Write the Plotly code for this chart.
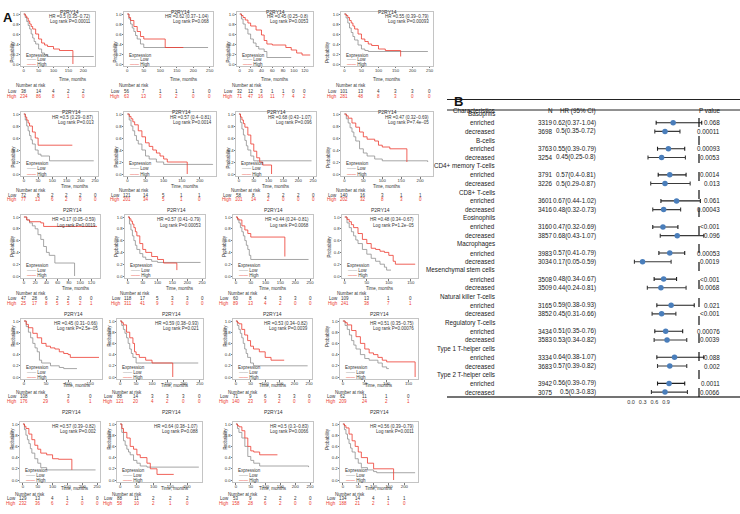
import plotly.graph_objects as go

W, H = 740, 514
FONT = "Arial, 'Liberation Sans', sans-serif"
RED = "#ec3a2e"
GREY = "#8f8f8f"

# ---------------- Panel A : Kaplan-Meier data ----------------
km_title = "P2RY14"
km_hr = ["HR =0.5 (0.35−0.72)", "HR =0.62 (0.37−1.04)", "HR =0.45 (0.25−0.8)", "HR =0.55 (0.39−0.79)",
         "HR =0.5 (0.29−0.87)", "HR =0.57 (0.4−0.81)", "HR =0.68 (0.43−1.07)", "HR =0.47 (0.32−0.69)",
         "HR =0.17 (0.05−0.59)", "HR =0.57 (0.41−0.79)", "HR =0.44 (0.24−0.81)", "HR =0.48 (0.34−0.67)",
         "HR =0.45 (0.31−0.66)", "HR =0.59 (0.38−0.93)", "HR =0.53 (0.34−0.82)", "HR =0.51 (0.35−0.75)",
         "HR =0.57 (0.39−0.82)", "HR =0.64 (0.38−1.07)", "HR =0.5 (0.3−0.83)", "HR =0.56 (0.39−0.79)"]
km_p = ["Log rank P=0.00011", "Log rank P=0.068", "Log rank P=0.0053", "Log rank P=0.00093",
        "Log rank P=0.013", "Log rank P=0.0014", "Log rank P=0.096", "Log rank P=7.4e−05",
        "Log rank P=0.0019", "Log rank P=0.00053", "Log rank P=0.0068", "Log rank P=1.2e−05",
        "Log rank P=2.5e−05", "Log rank P=0.021", "Log rank P=0.0039", "Log rank P=0.00076",
        "Log rank P=0.002", "Log rank P=0.088", "Log rank P=0.0066", "Log rank P=0.0011"]
km_xlim = [230, 250, 130, 250, 250, 235, 250, 225, 130, 250,
           250, 160, 170, 250, 250, 165, 250, 235, 250, 235]
T250 = [0, 50, 100, 150, 200, 250]
T200 = [0, 50, 100, 150, 200]
T150 = [0, 50, 100, 150]
T120 = [0, 20, 40, 60, 80, 100, 120]
km_xticks = [T200, T250, T120, T250, T250, T200, T250, T200, T120, T250,
             T250, T150, T150, T250, T250, T150, T250, T200, T250, T200]
risk_low = [[38, 14, 4, 2, 2], [56, 7, 1, 1, 1, 0], [32, 12, 3, 1, 1, 0, 0], [101, 13, 4, 3, 3, 0],
            [72, 8, 2, 2, 2, 0], [121, 14, 5, 1, 1], [58, 8, 3, 2, 2, 0], [140, 16, 3, 1, 1],
            [47, 28, 6, 2, 2, 0, 0], [118, 17, 5, 3, 3, 0], [60, 8, 4, 3, 3, 0], [109, 13, 1, 0],
            [108, 8, 3, 0], [88, 14, 3, 3, 3, 0], [71, 9, 6, 3, 3, 0], [62, 11, 1, 0],
            [129, 13, 4, 1, 1, 0], [88, 11, 2, 2, 2], [53, 9, 2, 2, 2, 0], [134, 14, 4, 1, 1]]
risk_high = [[234, 86, 8, 1, 0], [63, 13, 3, 2, 0, 0], [71, 47, 16, 11, 7, 4, 2], [281, 48, 8, 3, 0, 0],
             [77, 13, 6, 2, 0, 0], [201, 34, 5, 1, 0], [101, 14, 2, 0, 0, 0], [202, 32, 8, 3, 0],
             [25, 17, 8, 5, 5, 2, 1], [311, 41, 9, 3, 0, 0], [89, 13, 4, 2, 0, 0], [241, 38, 7, 1],
             [176, 29, 6, 1], [121, 20, 4, 2, 0, 0], [140, 23, 9, 2, 0, 0], [209, 24, 2, 1],
             [232, 36, 6, 2, 0, 0], [58, 10, 2, 1, 0], [158, 28, 6, 2, 0, 0], [188, 21, 2, 1, 0]]

low_t = [[0, 5, 10, 15, 20, 25, 30, 35, 40, 50, 60, 70, 80, 235],
         [0, 5, 10, 15, 20, 25, 30, 40, 50, 245],
         [0, 3, 6, 10, 15, 20, 25, 30, 35, 45, 50, 95],
         [0, 5, 10, 15, 20, 25, 30, 40, 50, 60, 70, 245],
         [0, 5, 10, 15, 20, 25, 30, 40, 50, 60, 90, 245],
         [0, 5, 10, 15, 20, 25, 30, 40, 50, 60, 80, 100, 235],
         [0, 5, 10, 15, 20, 25, 30, 40, 50, 245],
         [0, 5, 10, 15, 20, 25, 30, 40, 50, 60, 80, 100, 220],
         [0, 5, 10, 15, 20, 25, 30, 35, 40, 45, 55, 90],
         [0, 5, 10, 15, 20, 25, 30, 40, 50, 60, 80, 100, 245],
         [0, 5, 10, 15, 20, 25, 30, 35, 40, 45, 50, 245],
         [0, 5, 10, 15, 20, 25, 30, 40, 50, 60, 70, 80, 90, 95, 105],
         [0, 5, 10, 15, 20, 25, 30, 35, 40, 60, 80, 90, 120],
         [0, 5, 10, 15, 20, 25, 30, 35, 40, 50, 245],
         [0, 5, 10, 15, 20, 25, 30, 35, 40, 50, 60, 245],
         [0, 5, 10, 15, 20, 25, 30, 40, 50, 60, 80, 90, 100, 105],
         [0, 5, 10, 15, 20, 25, 30, 40, 50, 60, 80, 245],
         [0, 5, 10, 15, 20, 25, 30, 40, 50, 60, 80, 235],
         [0, 5, 10, 20, 30, 40, 50, 60, 80, 245],
         [0, 5, 10, 15, 20, 25, 30, 40, 50, 60, 80, 100, 110, 235]]
low_s = [[1, 0.93, 0.85, 0.77, 0.7, 0.6, 0.52, 0.45, 0.4, 0.3, 0.22, 0.18, 0.15, 0.15],
         [1, 0.9, 0.8, 0.72, 0.65, 0.57, 0.5, 0.4, 0.33, 0.33],
         [1, 0.9, 0.8, 0.7, 0.6, 0.5, 0.42, 0.35, 0.3, 0.25, 0.13, 0.13],
         [1, 0.92, 0.82, 0.72, 0.63, 0.55, 0.48, 0.38, 0.3, 0.27, 0.25, 0.25],
         [1, 0.9, 0.8, 0.72, 0.64, 0.57, 0.5, 0.4, 0.33, 0.3, 0.22, 0.22],
         [1, 0.9, 0.8, 0.72, 0.64, 0.56, 0.5, 0.4, 0.3, 0.25, 0.2, 0.16, 0.15],
         [1, 0.86, 0.75, 0.65, 0.56, 0.47, 0.4, 0.3, 0.22, 0.22],
         [1, 0.92, 0.85, 0.77, 0.7, 0.62, 0.55, 0.42, 0.35, 0.3, 0.25, 0.22, 0.2],
         [1, 0.95, 0.9, 0.85, 0.8, 0.7, 0.62, 0.5, 0.4, 0.35, 0.22, 0.0],
         [1, 0.88, 0.78, 0.68, 0.6, 0.52, 0.45, 0.38, 0.32, 0.28, 0.25, 0.23, 0.23],
         [1, 0.95, 0.9, 0.82, 0.75, 0.68, 0.6, 0.52, 0.45, 0.35, 0.28, 0.28],
         [1, 0.9, 0.82, 0.75, 0.68, 0.61, 0.55, 0.45, 0.37, 0.3, 0.25, 0.2, 0.15, 0.1, 0.1],
         [1, 0.9, 0.8, 0.7, 0.6, 0.52, 0.45, 0.3, 0.25, 0.2, 0.17, 0.15, 0.15],
         [1, 0.92, 0.85, 0.78, 0.7, 0.6, 0.5, 0.42, 0.35, 0.25, 0.25],
         [1, 0.92, 0.85, 0.78, 0.7, 0.6, 0.5, 0.42, 0.35, 0.25, 0.2, 0.2],
         [1, 0.92, 0.85, 0.75, 0.65, 0.57, 0.5, 0.4, 0.33, 0.3, 0.25, 0.18, 0.15, 0.15],
         [1, 0.9, 0.8, 0.72, 0.65, 0.56, 0.48, 0.38, 0.3, 0.22, 0.18, 0.18],
         [1, 0.85, 0.7, 0.62, 0.55, 0.5, 0.45, 0.35, 0.3, 0.25, 0.23, 0.23],
         [1, 0.92, 0.85, 0.75, 0.6, 0.42, 0.35, 0.3, 0.25, 0.23],
         [1, 0.9, 0.82, 0.73, 0.65, 0.57, 0.5, 0.38, 0.3, 0.22, 0.18, 0.15, 0.13, 0.13]]
high_t = [[0, 5, 10, 15, 20, 25, 30, 40, 50, 60, 70, 80, 100, 120, 165],
          [0, 5, 10, 20, 30, 40, 50, 115, 170],
          [0, 3, 6, 10, 15, 20, 30, 40, 45, 50, 60, 80, 85, 95, 105, 115, 130],
          [0, 5, 10, 15, 20, 25, 30, 40, 50, 60, 70, 80, 100, 120, 165],
          [0, 5, 10, 15, 20, 30, 40, 50, 170],
          [0, 5, 10, 15, 20, 30, 40, 50, 60, 70, 80, 90, 100, 110, 165],
          [0, 5, 10, 15, 20, 30, 40, 50, 60, 70, 80, 110],
          [0, 5, 10, 20, 30, 40, 50, 60, 80, 90, 100, 120, 165],
          [0, 5, 10, 30, 35, 130],
          [0, 5, 10, 15, 20, 25, 30, 40, 50, 60, 80, 100, 120, 165],
          [0, 5, 10, 20, 30, 40, 50, 165],
          [0, 5, 10, 15, 20, 30, 40, 50, 60, 70, 80, 90, 100, 110, 115, 160],
          [0, 5, 10, 20, 30, 40, 50, 60, 70, 80, 90, 100, 105, 170],
          [0, 5, 10, 20, 30, 40, 45, 50, 60, 80, 100, 165],
          [0, 5, 10, 20, 30, 40, 50, 60, 80, 100, 120, 165],
          [0, 5, 10, 20, 30, 40, 50, 60, 70, 80, 90, 100, 165],
          [0, 5, 10, 20, 30, 40, 50, 60, 80, 100, 120, 165],
          [0, 5, 10, 20, 30, 40, 50, 60, 80, 90, 110, 160],
          [0, 5, 10, 20, 30, 40, 50, 60, 80, 140],
          [0, 5, 10, 20, 30, 40, 50, 60, 80, 100, 165]]
high_s = [[1, 0.96, 0.92, 0.86, 0.8, 0.75, 0.7, 0.6, 0.5, 0.42, 0.38, 0.35, 0.3, 0.27, 0.0],
          [1, 0.93, 0.87, 0.75, 0.65, 0.55, 0.5, 0.33, 0.33],
          [1, 0.97, 0.93, 0.88, 0.82, 0.76, 0.68, 0.58, 0.47, 0.4, 0.38, 0.38, 0.33, 0.28, 0.22, 0.18, 0.18],
          [1, 0.97, 0.93, 0.87, 0.82, 0.76, 0.7, 0.6, 0.5, 0.45, 0.4, 0.37, 0.3, 0.27, 0.15],
          [1, 0.95, 0.9, 0.85, 0.8, 0.7, 0.6, 0.48, 0.48],
          [1, 0.96, 0.92, 0.87, 0.82, 0.72, 0.62, 0.52, 0.46, 0.4, 0.35, 0.3, 0.25, 0.2, 0.0],
          [1, 0.95, 0.9, 0.84, 0.78, 0.65, 0.5, 0.38, 0.27, 0.2, 0.15, 0.0],
          [1, 0.97, 0.93, 0.85, 0.78, 0.7, 0.62, 0.58, 0.55, 0.48, 0.45, 0.42, 0.2],
          [1, 0.95, 0.92, 0.9, 0.84, 0.84],
          [1, 0.97, 0.93, 0.88, 0.82, 0.75, 0.68, 0.55, 0.45, 0.4, 0.33, 0.28, 0.22, 0.1],
          [1, 0.97, 0.95, 0.85, 0.78, 0.72, 0.66, 0.33],
          [1, 0.96, 0.92, 0.87, 0.82, 0.72, 0.62, 0.55, 0.47, 0.45, 0.42, 0.4, 0.35, 0.25, 0.2, 0.2],
          [1, 0.94, 0.88, 0.78, 0.7, 0.6, 0.55, 0.52, 0.5, 0.45, 0.42, 0.4, 0.35, 0.35],
          [1, 0.97, 0.93, 0.8, 0.7, 0.6, 0.45, 0.4, 0.35, 0.3, 0.25, 0.0],
          [1, 0.97, 0.95, 0.85, 0.75, 0.65, 0.55, 0.5, 0.45, 0.35, 0.3, 0.3],
          [1, 0.97, 0.93, 0.83, 0.72, 0.6, 0.5, 0.43, 0.4, 0.35, 0.3, 0.27, 0.0],
          [1, 0.96, 0.92, 0.82, 0.72, 0.62, 0.55, 0.48, 0.45, 0.38, 0.37, 0.18],
          [1, 0.92, 0.85, 0.75, 0.6, 0.55, 0.45, 0.4, 0.3, 0.2, 0.1, 0.1],
          [1, 0.97, 0.95, 0.88, 0.75, 0.6, 0.52, 0.5, 0.45, 0.45],
          [1, 0.97, 0.93, 0.82, 0.7, 0.6, 0.5, 0.4, 0.3, 0.2, 0.0]]

# ---------------- Panel B : forest plot data ----------------
cell_types = ["Basophils", "B-cells", "CD4+ memory T-cells", "CD8+ T-cells", "Eosinophils", "Macrophages",
              "Mesenchymal stem cells", "Natural killer T-cells", "Regulatory T-cells",
              "Type 1 T-helper cells", "Type 2 T-helper cells"]
n_enr = [3319, 3763, 3791, 3601, 3160, 3983, 3508, 3165, 3434, 3334, 3942]
hr_enr = [0.62, 0.55, 0.57, 0.67, 0.47, 0.57, 0.48, 0.59, 0.51, 0.64, 0.56]
lo_enr = [0.37, 0.39, 0.4, 0.44, 0.32, 0.41, 0.34, 0.38, 0.35, 0.38, 0.39]
hi_enr = [1.04, 0.79, 0.81, 1.02, 0.69, 0.79, 0.67, 0.93, 0.76, 1.07, 0.79]
p_enr = ["0.068", "0.00093", "0.0014", "0.061", "<0.001", "0.00053", "<0.001", "0.021", "0.00076", "0.088", "0.0011"]
n_dec = [3698, 3254, 3226, 3416, 3857, 3034, 3509, 3852, 3583, 3683, 3075]
hr_dec = [0.5, 0.45, 0.5, 0.48, 0.68, 0.17, 0.44, 0.45, 0.53, 0.57, 0.5]
lo_dec = [0.35, 0.25, 0.29, 0.32, 0.43, 0.05, 0.24, 0.31, 0.34, 0.39, 0.3]
hi_dec = [0.72, 0.8, 0.87, 0.73, 1.07, 0.59, 0.81, 0.66, 0.82, 0.82, 0.83]
p_dec = ["0.00011", "0.0053", "0.013", "0.00043", "0.096", "0.0019", "0.0068", "<0.001", "0.0039", "0.002", "0.0066"]
forest_tick_labels = [0.0, 0.3, 0.6, 0.9]
forest_tick_squeeze = 0.573   # the printed tick labels in the original sit compressed toward 0

# ---------------- layout geometry (pixels) ----------------
row_y1 = [14, 114, 217, 321, 424]     # pixel of survival 1.0
row_y0 = [64, 174, 276, 377, 480]     # pixel of survival 0.0
row_high = [92, 200, 303, 406, 508]   # pixel of the "High" risk row
col_box = [[(21, 95), (124, 213), (237, 313), (341, 433)],
           [(21, 98), (124, 216), (236, 316), (341, 433)],
           [(21, 100), (125, 205), (233, 313), (342, 418)],
           [(21, 102), (117, 203), (233, 312), (340, 418)],
           [(20, 100), (117, 202), (233, 313), (340, 418)]]


def px(x):
    return x / W


def py(y):
    return 1 - y / H


fig = go.Figure()
ann = []
shapes = []
layout = {}
FS = 4.5
small = dict(family=FONT, size=FS, color="#333")
small_red = dict(family=FONT, size=FS, color=RED)
tickf = dict(family=FONT, size=4.3, color="#333")

for i in range(20):
    r, c = divmod(i, 4)
    k = i + 1
    L, R = col_box[r][c]
    y1, y0 = row_y1[r], row_y0[r]
    sc = y0 - y1
    top, bot = y1 - 0.04 * sc, y0 + 0.04 * sc
    xl = km_xlim[i]
    xa = "x" if k == 1 else f"x{k}"
    ya = "y" if k == 1 else f"y{k}"
    common = dict(tickfont=tickf, ticks="outside", ticklen=1.5, tickwidth=0.5, tickcolor="#777",
                  showline=True, mirror=True, linecolor="#c4c4c4", linewidth=0.8,
                  showgrid=False, zeroline=False, fixedrange=True)
    layout["xaxis" if k == 1 else f"xaxis{k}"] = dict(
        domain=[px(L), px(R)], anchor=ya, range=[-0.04 * xl, 1.04 * xl], ticklabelstandoff=-2,
        tickvals=km_xticks[i], ticktext=[str(v) for v in km_xticks[i]], **common)
    layout["yaxis" if k == 1 else f"yaxis{k}"] = dict(
        domain=[py(bot), py(top)], anchor=xa, range=[-0.04, 1.04], ticklabelstandoff=-1,
        tickvals=[0, 0.2, 0.4, 0.6, 0.8, 1.0], ticktext=["0.0", "0.2", "0.4", "0.6", "0.8", "1.0"], **common)

    fig.add_trace(go.Scatter(x=low_t[i], y=low_s[i], mode="lines", line=dict(color=GREY, width=0.8, shape="hv"),
                             xaxis=xa, yaxis=ya, showlegend=False, hoverinfo="skip"))
    fig.add_trace(go.Scatter(x=high_t[i], y=high_s[i], mode="lines", line=dict(color=RED, width=0.8, shape="hv"),
                             xaxis=xa, yaxis=ya, showlegend=False, hoverinfo="skip"))

    # title
    ann.append(dict(text=km_title, x=px((L + R) / 2), y=py(top - 4.5), xref="paper", yref="paper",
                    showarrow=False, font=dict(family=FONT, size=5, color="#333")))
    # HR / log rank
    ann.append(dict(text=km_hr[i], x=px(R - 2), y=0.95, xref="paper", yref=ya, xanchor="right",
                    showarrow=False, font=small))
    ann.append(dict(text=km_p[i], x=px(R - 2), y=0.86, xref="paper", yref=ya, xanchor="right",
                    showarrow=False, font=small))
    # legend
    ann.append(dict(text="Expression", x=px(L + 3), y=0.17, xref="paper", yref=ya, xanchor="left",
                    showarrow=False, font=small))
    ann.append(dict(text=f"<span style='color:{GREY}'>——</span> Low", x=px(L + 4), y=0.085, xref="paper",
                    yref=ya, xanchor="left", showarrow=False, font=small))
    ann.append(dict(text=f"<span style='color:{RED}'>——</span> High", x=px(L + 4), y=0.0, xref="paper",
                    yref=ya, xanchor="left", showarrow=False, font=small))
    # axis titles
    ann.append(dict(text="Time, months", x=px((L + R) / 2), y=py(bot + 10), xref="paper", yref="paper",
                    showarrow=False, font=small, borderpad=0))
    ann.append(dict(text="Probability", x=px(L - 13), y=py((y1 + y0) / 2), xref="paper", yref="paper",
                    textangle=-90, showarrow=False, font=small))
    # number at risk table
    hi_y = row_high[r]
    ann.append(dict(text="Number at risk", x=px(L - 6), y=py(hi_y - 10), xref="paper", yref="paper",
                    xanchor="left", showarrow=False, font=small, borderpad=0))
    ann.append(dict(text="Low", x=px(L - 2), y=py(hi_y - 5), xref="paper", yref="paper",
                    xanchor="right", showarrow=False, font=small))
    ann.append(dict(text="High", x=px(L - 2), y=py(hi_y), xref="paper", yref="paper",
                    xanchor="right", showarrow=False, font=small_red))
    for tv, nl, nh in zip(km_xticks[i], risk_low[i], risk_high[i]):
        ann.append(dict(text=str(nl), x=tv, y=py(hi_y - 5), xref=xa, yref="paper", showarrow=False, font=small))
        ann.append(dict(text=str(nh), x=tv, y=py(hi_y), xref=xa, yref="paper", showarrow=False, font=small_red))

# panel labels
ann.append(dict(text="<b>A</b>", x=px(1), y=py(8), xref="paper", yref="paper", xanchor="left",
                showarrow=False, font=dict(family=FONT, size=13, color="#111")))
ann.append(dict(text="<b>B</b>", x=px(452), y=py(92), xref="paper", yref="paper", xanchor="left",
                showarrow=False, font=dict(family=FONT, size=13, color="#111")))

# ---------------- forest plot ----------------
row_top_px, row_step = 114, 8.69
ytop_px, ybot_px = 110, 397
x0_px, px_per_unit = 631, 68
fl, fr = 560, 716
layout["xaxis21"] = dict(domain=[px(fl), px(fr)], anchor="y21",
                         range=[(fl - x0_px) / px_per_unit, (fr - x0_px) / px_per_unit],
                         tickvals=[v * forest_tick_squeeze for v in forest_tick_labels],
                         ticktext=[f"{v:.1f}" for v in forest_tick_labels],
                         tickfont=dict(family=FONT, size=5.5, color="#333"), ticks="",
                         showline=False, showgrid=False, zeroline=False, fixedrange=True)
layout["yaxis21"] = dict(domain=[py(ybot_px), py(ytop_px)], anchor="x21",
                         range=[(ybot_px - row_top_px) / row_step, (ytop_px - row_top_px) / row_step],
                         visible=False, fixedrange=True)

rows_enr = [3 * g + 1 for g in range(len(cell_types))]
rows_dec = [3 * g + 2 for g in range(len(cell_types))]
for rows, hr, lo, hi, col in [(rows_enr, hr_enr, lo_enr, hi_enr, "#1e1e1e"),
                               (rows_dec, hr_dec, lo_dec, hi_dec, "#3a3a3a")]:
    fig.add_trace(go.Scatter(
        x=hr, y=rows, mode="markers", xaxis="x21", yaxis="y21", showlegend=False, hoverinfo="skip",
        marker=dict(color="#4a7ebb", size=5.5),
        error_x=dict(type="data", symmetric=False, array=[h - m for h, m in zip(hi, hr)],
                     arrayminus=[m - l for m, l in zip(hr, lo)], color=col, thickness=1.1, width=2)))

tf = dict(family=FONT, size=6.3, color="#1a1a1a")
col_x = {"name": 497, "n": 555, "hr": 598, "p": 722}
hdr_y = 105
for key, label in [("name", "Characteristics"), ("n", "N"), ("hr", "HR (95% CI)"), ("p", "P value")]:
    ann.append(dict(text=label, x=px(col_x[key]), y=py(hdr_y), xref="paper", yref="paper",
                    showarrow=False, font=tf))
for g, name in enumerate(cell_types):
    ann.append(dict(text=name, x=px(col_x["name"]), y=3 * g, xref="paper", yref="y21", showarrow=False, font=tf))
    for rr, lab, n, hr, lo, hi, p in [(3 * g + 1, "enriched", n_enr[g], hr_enr[g], lo_enr[g], hi_enr[g], p_enr[g]),
                                      (3 * g + 2, "decreased", n_dec[g], hr_dec[g], lo_dec[g], hi_dec[g], p_dec[g])]:
        ann.append(dict(text=lab, x=px(col_x["name"]), y=rr, xref="paper", yref="y21", showarrow=False, font=tf))
        ann.append(dict(text=str(n), x=px(col_x["n"]), y=rr, xref="paper", yref="y21", showarrow=False, font=tf))
        ann.append(dict(text=f"{hr:g}({lo:g}-{hi:g})", x=px(col_x["hr"]), y=rr, xref="paper", yref="y21",
                        showarrow=False, font=tf))
        ann.append(dict(text=p.replace("<", "&lt;"), x=px(col_x["p"]), y=rr, xref="paper", yref="y21",
                        showarrow=False, font=tf))

shapes.append(dict(type="line", xref="paper", yref="paper", x0=px(447), x1=px(740), y0=py(99.5), y1=py(99.5),
                   line=dict(color="#222", width=1)))
shapes.append(dict(type="line", xref="paper", yref="paper", x0=px(447), x1=px(740), y0=py(110), y1=py(110),
                   line=dict(color="#222", width=1)))
shapes.append(dict(type="line", xref="paper", yref="paper", x0=px(447), x1=px(740), y0=py(397), y1=py(397),
                   line=dict(color="#444", width=1.6)))
shapes.append(dict(type="line", xref="x21", yref="paper", x0=1, x1=1, y0=py(397), y1=py(110),
                   line=dict(color="#111", width=1.2, dash="dash")))

fig.update_layout(width=W, height=H, margin=dict(l=0, r=0, t=0, b=0), paper_bgcolor="white",
                  plot_bgcolor="white", annotations=ann, shapes=shapes, font=dict(family=FONT), **layout)
fig.write_html("out.html", config={"displayModeBar": False},
               post_script="document.body.style.margin='0px';")
